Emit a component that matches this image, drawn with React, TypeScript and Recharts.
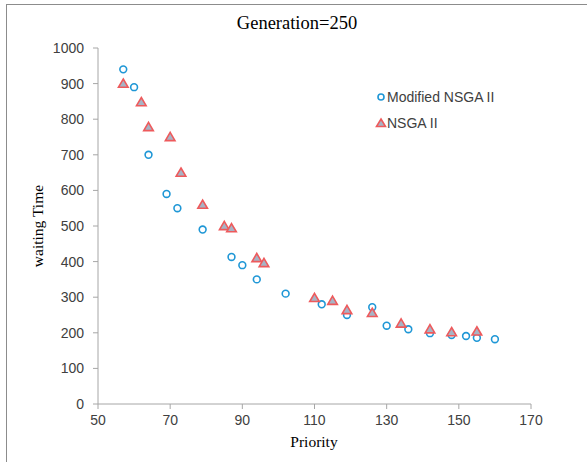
import { ScatterChart, Scatter, XAxis, YAxis } from 'recharts';

// Priority / waiting time pairs
const modifiedPriority = [57, 60, 64, 69, 72, 79, 87, 90, 94, 102, 112, 119, 126, 130, 136, 142, 148, 152, 155, 160];
const modifiedWaiting = [940, 890, 700, 590, 550, 490, 413, 390, 350, 310, 280, 250, 272, 220, 210, 199, 194, 191, 186, 182];

const nsgaPriority = [57, 62, 64, 70, 73, 79, 85, 87, 94, 96, 110, 115, 119, 126, 134, 142, 148, 155];
const nsgaWaiting = [900, 848, 778, 750, 650, 560, 500, 494, 410, 396, 298, 290, 264, 256, 226, 210, 202, 204];

const xTicks = [50, 70, 90, 110, 130, 150, 170];
const yTicks = [0, 100, 200, 300, 400, 500, 600, 700, 800, 900, 1000];

const CIRCLE = '#1f97d6';
const TRI_STROKE = '#ee5a5c';
const TRI_FILL = '#a7b3c5';
const AXIS = '#a6a6a6';
const LABEL = '#404040';

const modifiedData = modifiedPriority.map((x, i) => ({ x, y: modifiedWaiting[i] }));
const nsgaData = nsgaPriority.map((x, i) => ({ x, y: nsgaWaiting[i] }));

const CircleMark = (props: any) => (
    <circle cx={props.cx} cy={props.cy} r={3.4} fill="#fff" stroke={CIRCLE} strokeWidth={1.6} />
);

const TriangleMark = (props: any) => {
    const { cx, cy } = props;
    return (
        <path
            d={`M${cx},${cy - 4.6} L${cx + 4.8},${cy + 3.6} L${cx - 4.8},${cy + 3.6} Z`}
            fill={TRI_FILL}
            stroke={TRI_STROKE}
            strokeWidth={1.6}
            strokeLinejoin="miter"
        />
    );
};

const sans = '"Liberation Sans", Arial, sans-serif';
const serif = '"Liberation Serif", "Times New Roman", serif';

export default function App() {
    return (
        <div style={{ position: 'absolute', left: 0, top: 0, width: 587, height: 462, background: '#fff', overflow: 'hidden' }}>
            {/* frame, only left and top edges visible */}
            <div style={{ position: 'absolute', left: 6, top: 4, right: -2, bottom: -2, borderLeft: '1px solid #8c8c8c', borderTop: '1px solid #8c8c8c' }} />

            <ScatterChart width={587} height={462} margin={{ top: 48, right: 56, bottom: 28, left: 38 }}>
                <XAxis
                    type="number"
                    dataKey="x"
                    domain={[50, 170]}
                    ticks={xTicks}
                    height={30}
                    stroke={AXIS}
                    tickSize={5}
                    tickMargin={6}
                    tick={{ fill: LABEL, fontSize: 14, fontFamily: sans }}
                    allowDataOverflow
                />
                <YAxis
                    type="number"
                    dataKey="y"
                    domain={[0, 1000]}
                    ticks={yTicks}
                    width={60}
                    stroke={AXIS}
                    tickSize={5}
                    tickMargin={9}
                    tick={{ fill: LABEL, fontSize: 14, fontFamily: sans }}
                    allowDataOverflow
                />
                <Scatter name="Modified NSGA II" data={modifiedData} shape={CircleMark} isAnimationActive={false} />
                <Scatter name="NSGA II" data={nsgaData} shape={TriangleMark} isAnimationActive={false} />
            </ScatterChart>

            <div style={{ position: 'absolute', left: 197, width: 200, top: 13, textAlign: 'center', fontFamily: serif, fontSize: 18.5, color: '#000' }}>
                Generation=250
            </div>
            <div style={{ position: 'absolute', left: 264, width: 100, top: 433, textAlign: 'center', fontFamily: serif, fontSize: 15.5, color: '#000' }}>
                Priority
            </div>
            <div
                style={{
                    position: 'absolute',
                    left: 38 - 60,
                    top: 226 - 10,
                    width: 120,
                    height: 20,
                    lineHeight: '20px',
                    textAlign: 'center',
                    transform: 'rotate(-90deg)',
                    fontFamily: serif,
                    fontSize: 15.5,
                    color: '#000',
                }}
            >
                waiting Time
            </div>

            {/* legend */}
            <svg style={{ position: 'absolute', left: 370, top: 86 }} width={150} height={50}>
                <circle cx={11} cy={11} r={3} fill="#fff" stroke={CIRCLE} strokeWidth={1.6} />
                <text x={17} y={16} fontFamily={sans} fontSize={14} fill={LABEL}>Modified NSGA II</text>
                <path d="M11,33 L15.5,40.5 L6.5,40.5 Z" fill={TRI_FILL} stroke={TRI_STROKE} strokeWidth={1.6} />
                <text x={17} y={42} fontFamily={sans} fontSize={14} fill={LABEL}>NSGA II</text>
            </svg>
        </div>
    );
}
